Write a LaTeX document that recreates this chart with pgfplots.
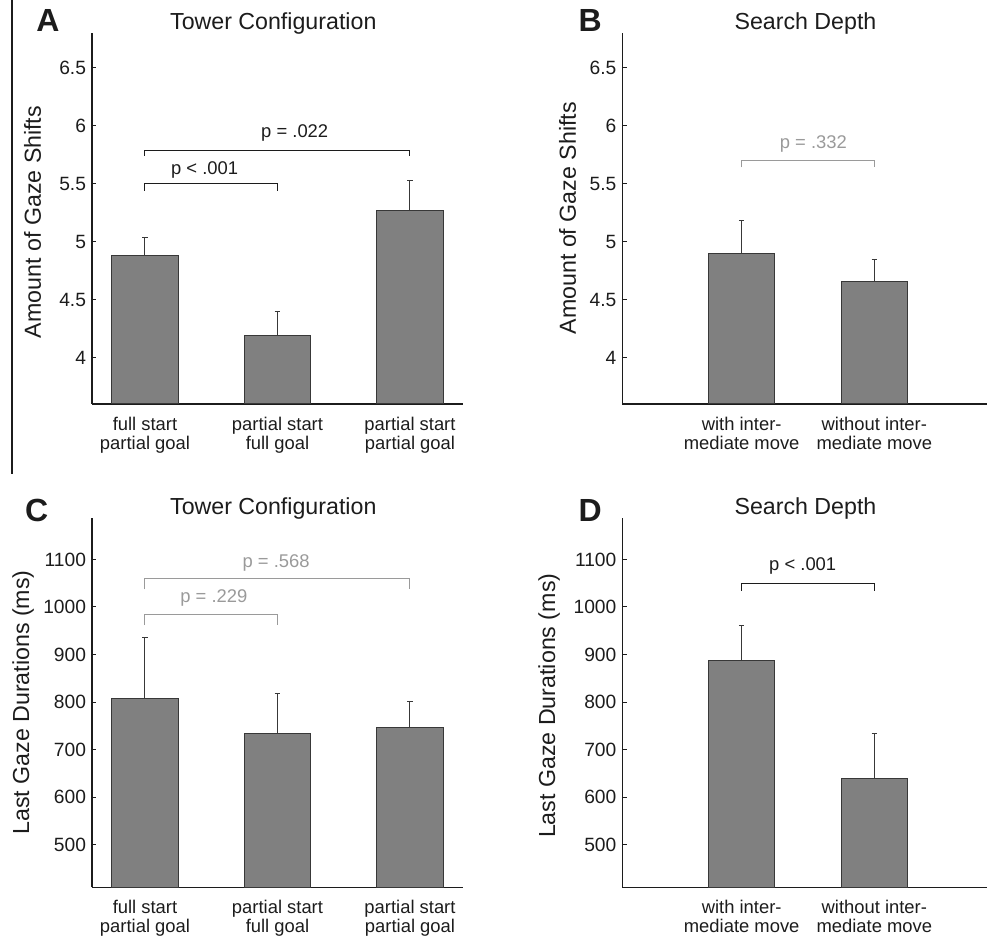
\documentclass[border=0pt]{standalone}
\usepackage{fontspec}
\setmainfont{Liberation Sans}
\usepackage{pgfplots}
\pgfplotsset{compat=1.18}

\definecolor{barfill}{HTML}{808080}
\definecolor{baredge}{HTML}{383838}
\definecolor{pgray}{HTML}{9A9A9A}
\definecolor{ink}{HTML}{1C1C1C}

\newcommand\tickfont{\fontsize{9.6}{11}\selectfont}
\newcommand\catfont{\fontsize{9.2}{9.5}\selectfont}
\newcommand\labfont{\fontsize{11.6}{13}\selectfont}
\newcommand\letfont{\fontsize{16}{18}\selectfont\bfseries}

\pgfplotsset{
  panel/.style={
    scale only axis,
    axis x line*=bottom, axis y line*=left,
    axis line style={ink, line width=0.6pt, -},
    tick align=inside,
    major tick length=2.2pt,
    ytick style={ink, line width=0.5pt},
    xtick style={draw=none},
    yticklabel style={font=\tickfont, text=ink, inner sep=0pt, xshift=-2.8pt},
    xticklabel style={font=\catfont, text=ink, align=center, inner sep=0pt, yshift=-6.3pt},
    /pgf/number format/assume math mode=true,
    /pgf/number format/1000 sep={},
  },
  bars/.style={
    ybar, bar width=0.5, fill=barfill, draw=baredge, line width=0.5pt,
    error bars/.cd, y dir=plus, y explicit,
    error bar style={baredge, line width=0.5pt},
    error mark options={rotate=90, mark size=1.4pt, baredge, line width=0.5pt},
  },
}

\begin{document}
\begin{tikzpicture}
\useasboundingbox (0,0) rectangle (493.5pt,470.5pt);

% A: gaze shifts, tower configuration
\begin{axis}[panel, at={(46pt,268.5pt)}, anchor=south west,
  width=185.5pt, height=185.5pt,
  xmin=0.6, xmax=3.4, ymin=3.6, ymax=6.8,
  ytick={4,4.5,5,5.5,6,6.5},
  xtick={1,2,3},
  xticklabels={{full start\\partial goal},{partial start\\full goal},{partial start\\partial goal}}]
\addplot[bars] coordinates {(1,4.88) +- (0,0.16) (2,4.19) +- (0,0.21) (3,5.27) +- (0,0.26)};
\draw[ink, line width=0.5pt] (axis cs:1,5.44) |- (axis cs:2,5.50) -- (axis cs:2,5.44);
\draw[ink, line width=0.5pt] (axis cs:1,5.74) |- (axis cs:3,5.79) -- (axis cs:3,5.74);
\node[font=\catfont, text=ink, anchor=base] at (axis cs:1.45,5.58) {p < .001};
\node[font=\catfont, text=ink, anchor=base] at (axis cs:2.13,5.90) {p = .022};
\end{axis}

% B: gaze shifts, search depth
\begin{axis}[panel, at={(311.15pt,268.5pt)}, anchor=south west,
  width=182.4pt, height=185.5pt,
  xmin=0.1, xmax=2.85, ymin=3.6, ymax=6.8,
  ytick={4,4.5,5,5.5,6,6.5},
  xtick={1,2},
  xticklabels={{with inter-\\mediate move},{without inter-\\mediate move}}]
\addplot[bars] coordinates {(1,4.90) +- (0,0.28) (2,4.66) +- (0,0.19)};
\draw[pgray, line width=0.5pt] (axis cs:1,5.64) |- (axis cs:2,5.70) -- (axis cs:2,5.64);
\node[font=\catfont, text=pgray, anchor=base] at (axis cs:1.54,5.80) {p = .332};
\end{axis}

% C: last gaze durations, tower configuration
\begin{axis}[panel, at={(46pt,26.85pt)}, anchor=south west,
  width=185.5pt, height=184.8pt,
  xmin=0.6, xmax=3.4, ymin=410, ymax=1188,
  ytick={500,600,700,800,900,1000,1100},
  xtick={1,2,3},
  xticklabels={{full start\\partial goal},{partial start\\full goal},{partial start\\partial goal}}]
\addplot[bars] coordinates {(1,807) +- (0,128) (2,734) +- (0,83) (3,747) +- (0,54)};
\draw[pgray, line width=0.5pt] (axis cs:1,962) |- (axis cs:2,984) -- (axis cs:2,962);
\draw[pgray, line width=0.5pt] (axis cs:1,1037) |- (axis cs:3,1059) -- (axis cs:3,1037);
\node[font=\catfont, text=pgray, anchor=base] at (axis cs:1.52,1009) {p = .229};
\node[font=\catfont, text=pgray, anchor=base] at (axis cs:1.99,1084) {p = .568};
\end{axis}

% D: last gaze durations, search depth
\begin{axis}[panel, at={(311.15pt,26.85pt)}, anchor=south west,
  width=182.4pt, height=184.8pt,
  xmin=0.1, xmax=2.85, ymin=410, ymax=1188,
  ytick={500,600,700,800,900,1000,1100},
  xtick={1,2},
  xticklabels={{with inter-\\mediate move},{without inter-\\mediate move}}]
\addplot[bars] coordinates {(1,888) +- (0,74) (2,638) +- (0,95)};
\draw[ink, line width=0.5pt] (axis cs:1,1034) |- (axis cs:2,1050) -- (axis cs:2,1034);
\node[font=\catfont, text=ink, anchor=base] at (axis cs:1.46,1076) {p < .001};
\end{axis}

% titles, panel letters and y labels, placed in pixel units of the reference
\begin{scope}[x=0.5pt, y=-0.5pt, shift={(0pt,470.5pt)}]
\draw[ink, line width=0.7pt] (12,0) -- (12,474);
\node[font=\letfont, text=ink, anchor=base] at (48,31.7) {A};
\node[font=\letfont, text=ink, anchor=base] at (590.3,31.7) {B};
\node[font=\letfont, text=ink, anchor=base] at (36.7,521.7) {C};
\node[font=\letfont, text=ink, anchor=base] at (590.3,521.7) {D};
\node[font=\labfont, text=ink, anchor=base] at (273.3,30) {Tower Configuration};
\node[font=\labfont, text=ink, anchor=base] at (805.5,30) {Search Depth};
\node[font=\labfont, text=ink, anchor=base] at (273.3,514.3) {Tower Configuration};
\node[font=\labfont, text=ink, anchor=base] at (805.5,514.3) {Search Depth};
\node[font=\labfont, text=ink, rotate=90] at (32.5,222) {Amount of Gaze Shifts};
\node[font=\labfont, text=ink, rotate=90] at (567.5,218.3) {Amount of Gaze Shifts};
\node[font=\labfont, text=ink, rotate=90] at (23,702.5) {Last Gaze Durations (ms)};
\node[font=\labfont, text=ink, rotate=90] at (549.2,705.8) {Last Gaze Durations (ms)};
\end{scope}
\end{tikzpicture}
\end{document}
